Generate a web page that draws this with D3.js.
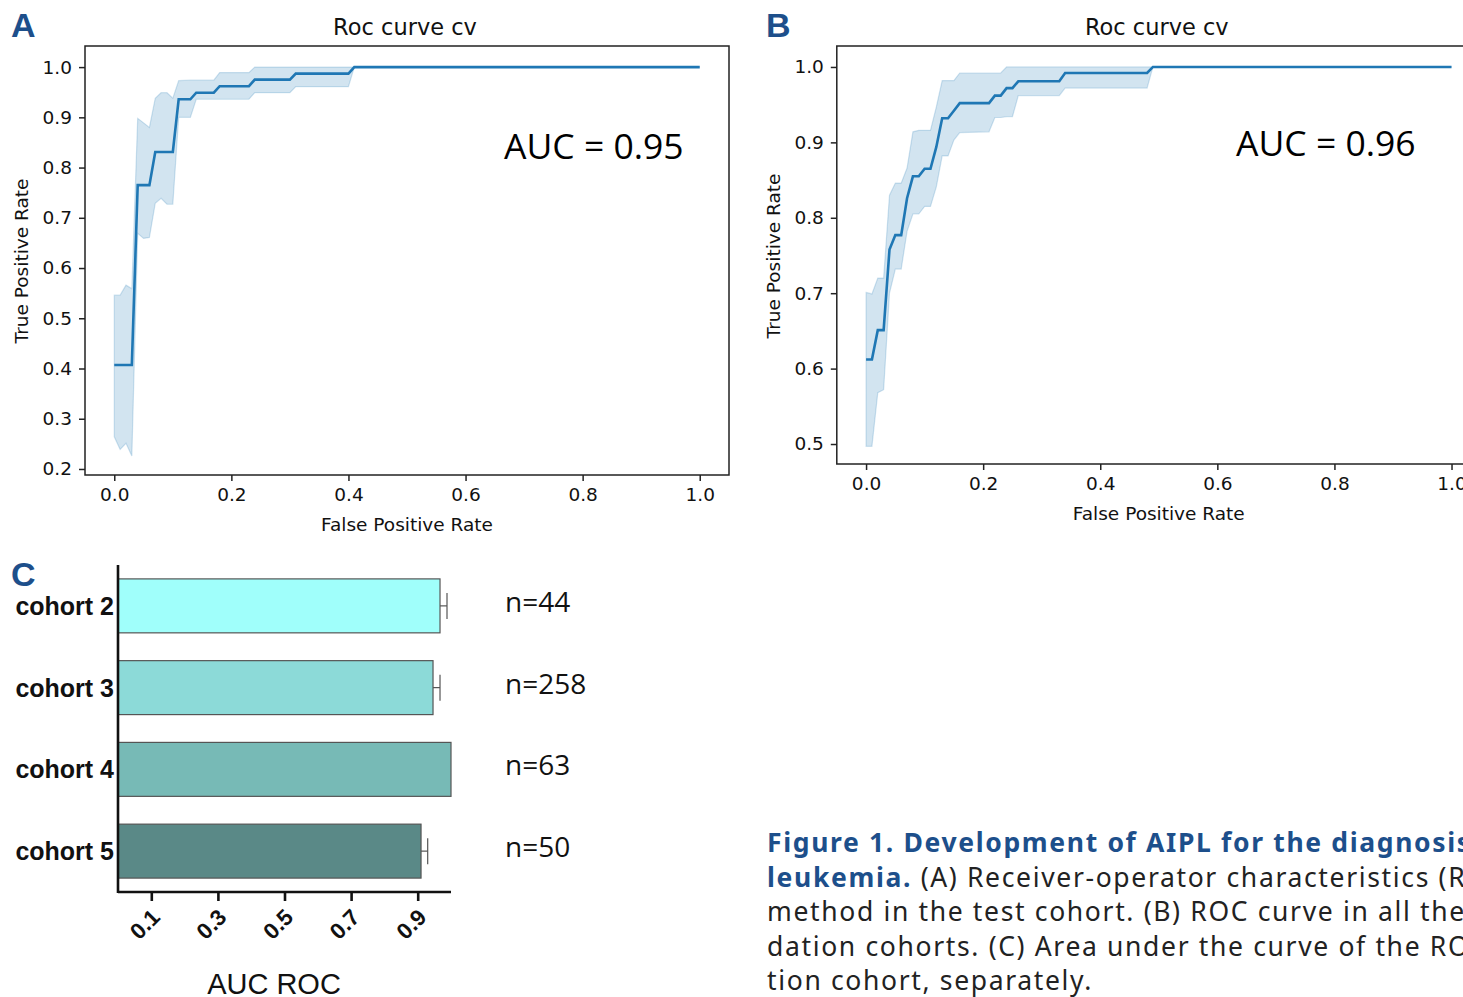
<!DOCTYPE html>
<html>
<head>
<meta charset="utf-8">
<script src="https://cdn.jsdelivr.net/npm/d3@7"></script>
<style>
  body { margin: 0; background: #fff; }
  svg { display: block; }
</style>
</head>
<body>
<div id="chart"></div>
<script>
// panel A: mean ROC and +-1 std band, on the fpr grid
const fprA = [0, 0.01, 0.02, 0.03, 0.04, 0.05, 0.06, 0.07, 0.08, 0.09, 0.10, 0.11, 0.13, 0.14, 0.17, 0.18, 0.23, 0.24, 0.30, 0.31, 0.40, 0.41, 1.0];
const tprA = [0.407, 0.407, 0.407, 0.407, 0.765, 0.765, 0.765, 0.831, 0.831, 0.831, 0.831, 0.936, 0.936, 0.949, 0.949, 0.962, 0.962, 0.975, 0.975, 0.987, 0.987, 1, 1];
const upA = [0.546, 0.546, 0.566, 0.559, 0.898, 0.889, 0.880, 0.938, 0.949, 0.949, 0.938, 0.973, 0.974, 0.974, 0.974, 0.989, 0.989, 1, 1, 1, 1, 1, 1];
const loA = [0.264, 0.239, 0.251, 0.226, 0.669, 0.659, 0.661, 0.729, 0.739, 0.727, 0.727, 0.900, 0.900, 0.936, 0.936, 0.936, 0.936, 0.949, 0.949, 0.961, 0.961, 1, 1];

// panel B
const fprB = [0, 0.01, 0.02, 0.03, 0.04, 0.05, 0.06, 0.07, 0.08, 0.09, 0.10, 0.11, 0.12, 0.13, 0.14, 0.15, 0.16, 0.21, 0.22, 0.23, 0.24, 0.25, 0.26, 0.33, 0.34, 0.48, 0.49, 1.0];
const tprB = [0.612, 0.612, 0.651, 0.651, 0.758, 0.777, 0.777, 0.826, 0.855, 0.855, 0.865, 0.865, 0.894, 0.932, 0.932, 0.942, 0.952, 0.952, 0.962, 0.962, 0.972, 0.972, 0.981, 0.981, 0.992, 0.992, 1, 1];
const upB = [0.701, 0.699, 0.720, 0.720, 0.830, 0.846, 0.846, 0.866, 0.914, 0.916, 0.916, 0.916, 0.947, 0.982, 0.982, 0.982, 0.992, 0.992, 0.992, 0.992, 1, 1, 1, 1, 1, 1, 1, 1];
const loB = [0.497, 0.497, 0.568, 0.572, 0.700, 0.732, 0.732, 0.782, 0.805, 0.805, 0.815, 0.815, 0.841, 0.882, 0.882, 0.903, 0.913, 0.914, 0.933, 0.933, 0.934, 0.934, 0.962, 0.962, 0.972, 0.972, 1, 1];

const xTicksRoc = [0, 0.2, 0.4, 0.6, 0.8, 1.0];
const yTicksA = [0.2, 0.3, 0.4, 0.5, 0.6, 0.7, 0.8, 0.9, 1.0];
const yTicksB = [0.5, 0.6, 0.7, 0.8, 0.9, 1.0];

// panel C
const cohorts = ["cohort 2", "cohort 3", "cohort 4", "cohort 5"];
const aucC = [0.967, 0.946, 1.0, 0.910];
const errC = [0.021, 0.021, 0, 0.020];
const nLabels = ["n=44", "n=258", "n=63", "n=50"];
const barColors = ["#a0fffb", "#8cdad8", "#77bab6", "#5a8987"];
const xTicksC = [0.1, 0.3, 0.5, 0.7, 0.9];

const captionLines = [
  [{ t: "Figure 1. Development of AIPL for the diagnosis", b: true }],
  [{ t: "leukemia.", b: true }, { t: " (A) Receiver-operator characteristics (ROC)", b: false }],
  [{ t: "method in the test cohort. (B) ROC curve in all the", b: false }],
  [{ t: "dation cohorts. (C) Area under the curve of the ROC", b: false }],
  [{ t: "tion cohort, separately.", b: false }]
];

const width = 1463, height = 997;
const blue = "#1f77b4", navy = "#1d4f8b";
const mpl = "'DejaVu Sans', sans-serif";
const arial = "'Liberation Sans', Arial, sans-serif";

const svg = d3.select("#chart").append("svg")
  .attr("width", width)
  .attr("height", height)
  .style("background", "#fff");

function rocPanel(opt) {
  const x = d3.scaleLinear().domain([-0.05, 1.05]).range([opt.left, opt.left + 644]);
  const y = d3.scaleLinear().domain(opt.ydom).range([opt.bottom, 46]);
  const g = svg.append("g");
  const pts = opt.fpr.map((f, i) => ({ f: f, m: opt.tpr[i], hi: opt.up[i], lo: opt.lo[i] }));

  g.append("path")
    .datum(pts)
    .attr("d", d3.area().x(d => x(d.f)).y0(d => y(d.lo)).y1(d => y(d.hi)))
    .attr("fill", blue)
    .attr("fill-opacity", 0.2)
    .attr("stroke", blue)
    .attr("stroke-opacity", 0.2)
    .attr("stroke-width", 1.2);
  g.append("path")
    .datum(pts)
    .attr("d", d3.line().x(d => x(d.f)).y(d => y(d.m)))
    .attr("fill", "none")
    .attr("stroke", blue)
    .attr("stroke-width", 2.6);

  g.append("rect")
    .attr("x", x.range()[0]).attr("y", 46)
    .attr("width", x.range()[1] - x.range()[0]).attr("height", opt.bottom - 46)
    .attr("fill", "none").attr("stroke", "#222").attr("stroke-width", 1.5);

  const ax = g.append("g").attr("transform", `translate(0,${opt.bottom})`)
    .call(d3.axisBottom(x).tickValues(xTicksRoc).tickFormat(d3.format(".1f")).tickSize(6).tickPadding(7));
  const ay = g.append("g").attr("transform", `translate(${x.range()[0]},0)`)
    .call(d3.axisLeft(y).tickValues(opt.yticks).tickFormat(d3.format(".1f")).tickSize(6).tickPadding(7));
  [ax, ay].forEach(a => {
    a.select(".domain").remove();
    a.selectAll("line").attr("stroke", "#222").attr("stroke-width", 1.5);
    a.selectAll("text").attr("font-family", mpl).attr("font-size", 18.5).attr("fill", "#111");
  });

  const cx = (x.range()[0] + x.range()[1]) / 2;
  g.append("text").attr("x", cx - 2).attr("y", 35).attr("text-anchor", "middle")
    .attr("font-family", mpl).attr("font-size", 22.5).attr("fill", "#111").text("Roc curve cv");
  g.append("text").attr("x", cx).attr("y", opt.bottom + 56).attr("text-anchor", "middle")
    .attr("font-family", mpl).attr("font-size", 18.5).attr("fill", "#111").text("False Positive Rate");
  g.append("text")
    .attr("transform", `translate(${opt.ylabX},${opt.ylabY}) rotate(-90)`)
    .attr("text-anchor", "middle")
    .attr("font-family", mpl).attr("font-size", 18.5).attr("fill", "#111").text("True Positive Rate");
  g.append("text").attr("x", opt.aucX).attr("y", opt.aucY)
    .attr("font-family", "'Open Sans', sans-serif").attr("font-size", 35.5).attr("fill", "#000")
    .text(opt.auc);
  svg.append("text").attr("x", opt.tagX).attr("y", 37)
    .attr("font-family", arial).attr("font-weight", "bold")
    .attr("font-size", 34).attr("fill", navy).text(opt.tag);
}

rocPanel({ left: 85, bottom: 475, ydom: [0.188, 1.042], fpr: fprA, tpr: tprA, up: upA, lo: loA,
  yticks: yTicksA, ylabX: 28, ylabY: 261, auc: "AUC = 0.95", aucX: 504, aucY: 159, tag: "A", tagX: 11 });
rocPanel({ left: 836.8, bottom: 464, ydom: [0.4735, 1.0278], fpr: fprB, tpr: tprB, up: upB, lo: loB,
  yticks: yTicksB, ylabX: 780, ylabY: 256, auc: "AUC = 0.96", aucX: 1236, aucY: 156, tag: "B", tagX: 766 });

// panel C: horizontal bars
const xc = d3.scaleLinear().domain([0, 1]).range([118, 451]);
const yc = d3.scaleBand().domain(cohorts).range([565, 892]).paddingInner(0.34).paddingOuter(0.17);
const gc = svg.append("g");

gc.selectAll(".bar")
  .data(cohorts)
  .enter().append("rect")
  .attr("class", "bar")
  .attr("x", xc(0))
  .attr("y", d => yc(d))
  .attr("width", (d, i) => xc(aucC[i]) - xc(0))
  .attr("height", yc.bandwidth())
  .attr("fill", (d, i) => barColors[i])
  .attr("stroke", "#555")
  .attr("stroke-width", 1.2);

const errs = gc.selectAll(".err")
  .data(cohorts.filter((d, i) => errC[i] > 0))
  .enter().append("g").attr("class", "err");
errs.append("line")
  .attr("x1", d => xc(aucC[cohorts.indexOf(d)]))
  .attr("x2", d => xc(aucC[cohorts.indexOf(d)] + errC[cohorts.indexOf(d)]))
  .attr("y1", d => yc(d) + yc.bandwidth() / 2)
  .attr("y2", d => yc(d) + yc.bandwidth() / 2)
  .attr("stroke", "#555").attr("stroke-width", 1.2);
errs.append("line")
  .attr("x1", d => xc(aucC[cohorts.indexOf(d)] + errC[cohorts.indexOf(d)]))
  .attr("x2", d => xc(aucC[cohorts.indexOf(d)] + errC[cohorts.indexOf(d)]))
  .attr("y1", d => yc(d) + yc.bandwidth() / 2 - 13)
  .attr("y2", d => yc(d) + yc.bandwidth() / 2 + 13)
  .attr("stroke", "#555").attr("stroke-width", 1.2);

gc.append("line").attr("x1", 118).attr("x2", 118).attr("y1", 565).attr("y2", 893)
  .attr("stroke", "#111").attr("stroke-width", 2.6);
const axc = gc.append("g").attr("transform", "translate(0,892)")
  .call(d3.axisBottom(xc).tickValues(xTicksC).tickFormat(d3.format(".1f")).tickSize(9).tickPadding(4));
axc.select(".domain").attr("d", `M118,0H451`).attr("stroke", "#111").attr("stroke-width", 2.6);
axc.selectAll("line").attr("stroke", "#111").attr("stroke-width", 2.6);
axc.selectAll("text")
  .attr("font-family", arial).attr("font-weight", "bold")
  .attr("font-size", 22.5).attr("fill", "#111")
  .attr("text-anchor", "end")
  .attr("x", 0).attr("y", 0)
  .attr("transform", "translate(4,21) rotate(-45)")
  .attr("dy", "0.35em");

gc.selectAll(".clab")
  .data(cohorts)
  .enter().append("text")
  .attr("x", 114)
  .attr("y", d => yc(d) + yc.bandwidth() / 2 + 9)
  .attr("text-anchor", "end")
  .attr("font-family", arial).attr("font-weight", "bold")
  .attr("font-size", 25).attr("fill", "#111")
  .text(d => d);

gc.selectAll(".nlab")
  .data(cohorts)
  .enter().append("text")
  .attr("x", 505)
  .attr("y", d => yc(d) + yc.bandwidth() / 2 + 6)
  .attr("font-family", "'Open Sans', sans-serif")
  .attr("font-size", 28).attr("fill", "#111")
  .text((d, i) => nLabels[i]);

gc.append("text").attr("x", 274).attr("y", 994).attr("text-anchor", "middle")
  .attr("font-family", arial)
  .attr("font-size", 29).attr("fill", "#111").text("AUC ROC");
svg.append("text").attr("x", 11).attr("y", 586)
  .attr("font-family", arial).attr("font-weight", "bold")
  .attr("font-size", 34).attr("fill", navy).text("C");

// caption, runs past the right edge like the source page
const cap = svg.append("text")
  .attr("font-family", "'Noto Sans', sans-serif")
  .attr("font-size", 26.5)
  .attr("letter-spacing", 1.65);
captionLines.forEach((line, i) => {
  const t = cap.append("tspan").attr("x", 767).attr("y", 852 + i * 34.5);
  line.forEach((seg, j) => {
    (j === 0 ? t : cap.append("tspan"))
      .attr("font-weight", seg.b ? "bold" : "normal")
      .attr("fill", seg.b ? navy : "#222")
      .text(seg.t);
  });
});
</script>
</body>
</html>
